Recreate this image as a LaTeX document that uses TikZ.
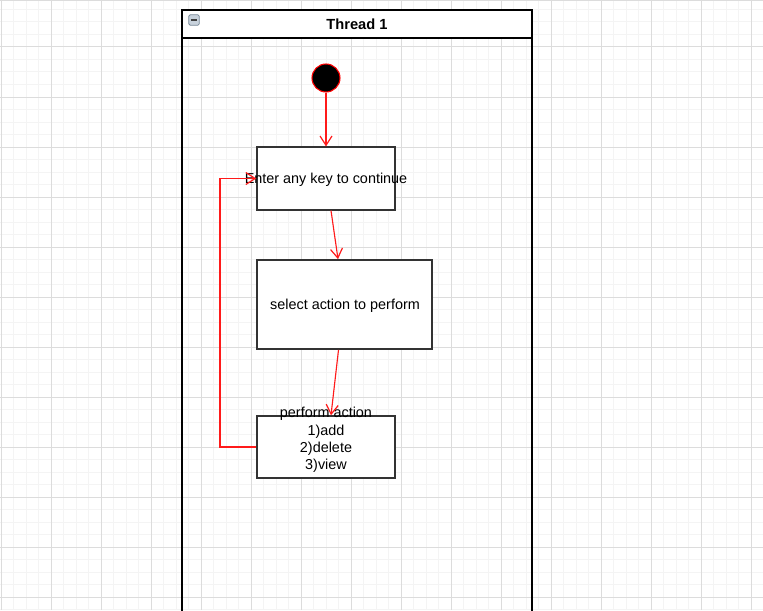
\documentclass[tikz,border=0pt]{standalone}
\usepackage{fontspec}
\setmainfont{Liberation Sans}
\usetikzlibrary{arrows.meta,calc}
\definecolor{gmaj}{HTML}{DCDCDC}
\definecolor{gmin}{HTML}{F4F4F4}
\definecolor{boxline}{HTML}{333333}
\definecolor{flowred}{HTML}{FF1A1A}
\definecolor{iconfill}{HTML}{C8D2DC}
\definecolor{iconline}{HTML}{7A8A99}
\tikzset{
  gridminor/.style={draw=gmin,line width=0.75pt},
  gridmajor/.style={draw=gmaj,line width=0.75pt},
  actbox/.style={draw=boxline,fill=white,line width=1.1pt,inner sep=0pt,rectangle},
  acttext/.style={font=\fontsize{10.8}{13.1}\selectfont,align=center,inner sep=0pt},
  flow/.style={draw=flowred,line width=0.85pt,-{Straight Barb[length=7pt,width=9pt,line width=0.9pt]}},
  lanestyle/.style={draw=black,line width=1.1pt}
}
\begin{document}
\begin{tikzpicture}[x=0.75pt,y=-0.75pt]
\useasboundingbox (0,0) rectangle (763,610);
\clip (0,0) rectangle (763,610);
\fill[white] (0,0) rectangle (763,610);
% grid
\foreach \i in {0,...,61} {\draw[gridminor] ({1+12.5*\i},0) -- ({1+12.5*\i},610);}
\foreach \i in {0,...,50} {\draw[gridminor] (0,{-3+12.5*\i}) -- (763,{-3+12.5*\i});}
\foreach \i in {0,...,15} {\draw[gridmajor] ({1+50*\i},0) -- ({1+50*\i},610);}
\foreach \i in {0,...,12} {\draw[gridmajor] (0,{-3+50*\i}) -- (763,{-3+50*\i});}
\draw[gridmajor] (0,1) -- (763,1);
% swimlane
\draw[lanestyle] (182,10) rectangle (532,640);
\filldraw[lanestyle,fill=white] (182,10) rectangle (532,38);
\node[font=\bfseries\fontsize{11}{13}\selectfont,inner sep=0pt] (title) at (357,24) {Thread 1};
\node[draw=iconline,fill=iconfill,rounded corners=1.2pt,minimum width=8pt,minimum height=8pt,inner sep=0pt,line width=0.6pt] (icon) at (194,20) {};
\draw[line width=1.4pt,draw=black!75] ($(icon.center)+(-3.2,0)$) -- ($(icon.center)+(3.2,0)$);
% nodes
\node[circle,draw=red,fill=black,line width=0.8pt,minimum size=21pt,inner sep=0pt] (init) at (326,78) {};
\node[actbox,minimum width=103.5pt,minimum height=47pt] (b1) at (326,178.5) {};
\node[acttext] (t1) at (326,179.5) {Enter any key to continue};
\node[actbox,minimum width=131.5pt,minimum height=67pt] (b2) at (344.5,304.5) {};
\node[acttext] (t2) at (345,306) {select action to perform};
\node[actbox,minimum width=103.5pt,minimum height=46.5pt] (b3) at (326,447) {};
\node[acttext] (t3) at (326,440) {perform action\\1)add\\2)delete\\3)view};
\coordinate (lp) at (220,447);
% connectors
\draw[flow] (init.south) -- (b1.north);
\draw[flow] ($(b1.south)+(5,0)$) -- ($(b2.north)+(-6.5,0)$);
\draw[flow] ($(b2.south)+(-6,0)$) -- ($(b3.north)+(5,0)$);
\draw[flow] (b3.west) -- (lp) |- (b1.west);
\end{tikzpicture}
\end{document}
